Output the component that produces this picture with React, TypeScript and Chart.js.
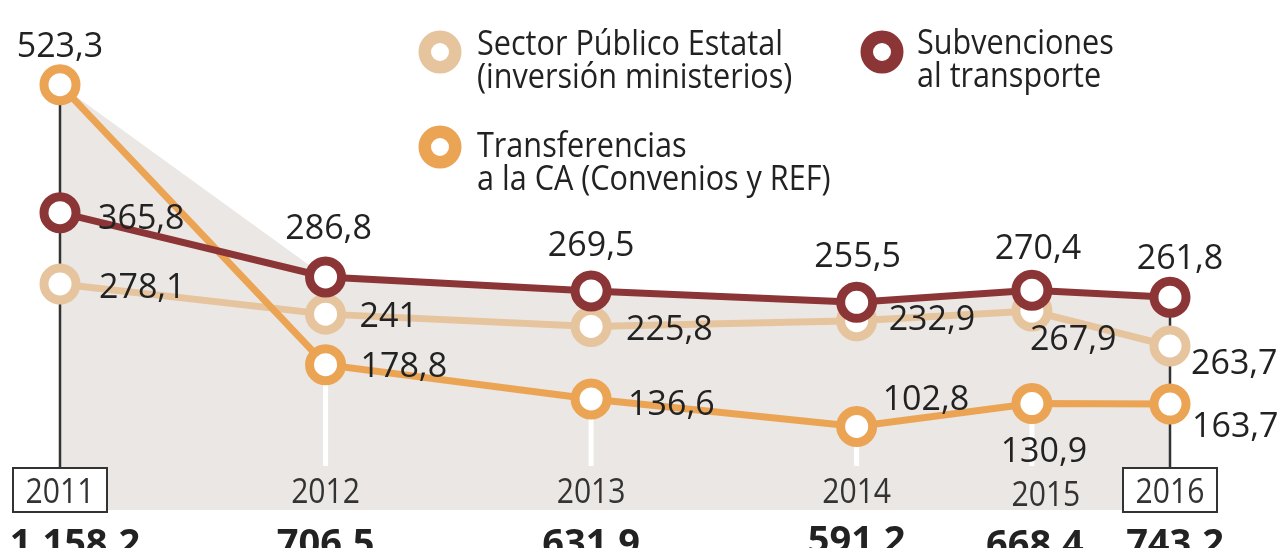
import React, { useEffect, useRef } from "react";
import { Chart, registerables } from "chart.js";

Chart.register(...registerables);

// ---------- data ----------
const years = ["2011", "2012", "2013", "2014", "2015", "2016"];
// where each year sits along the x axis (the original packs 2015 and 2016 closer together)
const columnSlots = [0, 1, 2, 3, 3.66, 4.18];

const sectorName = ["Sector Público Estatal", "(inversión ministerios)"];
const subvName = ["Subvenciones", "al transporte"];
const transName = ["Transferencias", "a la CA (Convenios y REF)"];

// heights as drawn in the original graphic (millions of euros)
const sectorValues = [278.1, 241, 225.8, 232.9, 244.8, 201.8];
const subvValues = [365.8, 286.8, 269.5, 255.5, 270.4, 261.8];
const transValues = [523.3, 178.8, 136.6, 102.8, 130.9, 130.4];

// printed figures
const sectorLabels = ["278,1", "241", "225,8", "232,9", "267,9", "263,7"];
const subvLabels = ["365,8", "286,8", "269,5", "255,5", "270,4", "261,8"];
const transLabels = ["523,3", "178,8", "136,6", "102,8", "130,9", "163,7"];
const totalLabels = ["1.158,2", "706,5", "631,9", "591,2", "668,4", "743,2"];

// ---------- styling / layout ----------
const C_SECTOR = "#e6c59e";
const C_SUBV = "#8c3536";
const C_TRANS = "#eba454";
const C_FILL = "#ebe7e4";
const C_TEXT = "#222222";
const FONT = '"Open Sans", "Noto Sans", sans-serif';

type Off = [number, number, CanvasTextAlign];
const transOffsets: Off[] = [[0, -40, "center"], [35, 0, "left"], [37, 4, "left"], [26, -28, "left"], [12, 46, "center"], [22, 21, "left"]];
const subvOffsets: Off[] = [[38, 4, "left"], [3, -50, "center"], [0, -47, "center"], [1, -47, "center"], [6, -43, "center"], [10, -40, "center"]];
const sectorOffsets: Off[] = [[39, 2, "left"], [34, 1, "left"], [35, 2, "left"], [32, -3, "left"], [-2, 27, "left"], [21, 16, "left"]];
const yearDx = [0, 0, 0, 0, 14, 0];
const yearBaseline = [503, 503, 503, 503, 506, 503];
const totalDx = [15, 0, 0, 0, 3, 5];
const totalBaseline = [556, 556, 556, 553, 557, 556];

function drawText(
  ctx: CanvasRenderingContext2D,
  s: string,
  x: number,
  y: number,
  align: CanvasTextAlign,
  size: number,
  weight: string,
  sx: number,
  color: string
) {
  ctx.save();
  ctx.font = `${weight} ${size}px ${FONT}`;
  ctx.fillStyle = color;
  ctx.textAlign = align;
  ctx.textBaseline = "alphabetic";
  ctx.translate(x, y);
  ctx.scale(sx, 1);
  ctx.fillText(s, 0, 0);
  ctx.restore();
}

function ring(ctx: CanvasRenderingContext2D, x: number, y: number, r: number, lw: number, color: string) {
  ctx.save();
  ctx.beginPath();
  ctx.arc(x, y, r, 0, Math.PI * 2);
  ctx.fillStyle = "#ffffff";
  ctx.fill();
  ctx.lineWidth = lw;
  ctx.strokeStyle = color;
  ctx.stroke();
  ctx.restore();
}

const infographic = {
  id: "infographic",
  beforeDatasetsDraw(chart: any) {
    const ctx = chart.ctx as CanvasRenderingContext2D;
    const xs = chart.scales.x;
    const ys = chart.scales.y;
    const last = columnSlots.length - 1;
    columnSlots.forEach((slot, i) => {
      const px = xs.getPixelForValue(slot);
      const pys = [sectorValues[i], subvValues[i], transValues[i]].map((v) => ys.getPixelForValue(v));
      const top = Math.min(...pys);
      const bottom = Math.max(...pys);
      ctx.save();
      ctx.beginPath();
      if (i === 0 || i === last) {
        ctx.strokeStyle = "#333333";
        ctx.lineWidth = 2.5;
        ctx.moveTo(px, top);
        ctx.lineTo(px, 468);
      } else {
        ctx.strokeStyle = "#ffffff";
        ctx.lineWidth = 5;
        ctx.moveTo(px, bottom);
        ctx.lineTo(px, 466);
      }
      ctx.stroke();
      ctx.restore();
    });
  },
  afterDatasetsDraw(chart: any) {
    const ctx = chart.ctx as CanvasRenderingContext2D;
    const xs = chart.scales.x;
    const ys = chart.scales.y;
    const groups: [number[], string[], Off[]][] = [
      [transValues, transLabels, transOffsets],
      [subvValues, subvLabels, subvOffsets],
      [sectorValues, sectorLabels, sectorOffsets],
    ];
    groups.forEach(([vals, labels, offs]) => {
      vals.forEach((v, i) => {
        const px = xs.getPixelForValue(columnSlots[i]);
        const py = ys.getPixelForValue(v);
        const [dx, dy, align] = offs[i];
        drawText(ctx, labels[i], px + dx, py + dy + 12, align, 34, "400", 1, C_TEXT);
      });
    });
  },
  afterDraw(chart: any) {
    const ctx = chart.ctx as CanvasRenderingContext2D;
    const xs = chart.scales.x;
    const last = columnSlots.length - 1;
    // year labels and boxes
    columnSlots.forEach((slot, i) => {
      const px = xs.getPixelForValue(slot);
      if (i === 0 || i === last) {
        ctx.save();
        ctx.fillStyle = "#ffffff";
        ctx.fillRect(px - 47, 468, 94, 44);
        ctx.strokeStyle = "#333333";
        ctx.lineWidth = 2;
        ctx.strokeRect(px - 47, 468, 94, 44);
        ctx.restore();
      }
      drawText(ctx, years[i], px + yearDx[i], yearBaseline[i], "center", 35, "400", 0.86, "#333333");
      drawText(ctx, totalLabels[i], px + totalDx[i], totalBaseline[i], "center", 38, "700", 1, C_TEXT);
    });
    // legend
    ring(ctx, 440, 52, 15.25, 12.5, C_SECTOR);
    ring(ctx, 440, 147, 15.25, 12.5, C_TRANS);
    ring(ctx, 882, 52, 15.25, 12.5, C_SUBV);
    drawText(ctx, sectorName[0], 477, 55, "left", 34, "400", 0.9, C_TEXT);
    drawText(ctx, sectorName[1], 477, 88, "left", 34, "400", 0.9, C_TEXT);
    drawText(ctx, transName[0], 477, 157, "left", 34, "400", 0.9, C_TEXT);
    drawText(ctx, transName[1], 477, 190, "left", 34, "400", 0.9, C_TEXT);
    drawText(ctx, subvName[0], 917, 54, "left", 34, "400", 0.9, C_TEXT);
    drawText(ctx, subvName[1], 917, 87, "left", 34, "400", 0.9, C_TEXT);
  },
};

function pts(vals: number[]) {
  return vals.map((v, i) => ({ x: columnSlots[i], y: v }));
}

export default function App() {
  const canvasRef = useRef<HTMLCanvasElement | null>(null);

  useEffect(() => {
    if (!canvasRef.current) return;
    const envelope = columnSlots.map((x, i) => ({
      x,
      y: Math.max(sectorValues[i], subvValues[i], transValues[i]),
    }));
    const lineDs = (label: string, vals: number[], color: string, order: number) => ({
      label,
      data: pts(vals),
      borderColor: color,
      backgroundColor: color,
      borderWidth: 7,
      pointRadius: 16,
      pointBorderWidth: 9,
      pointBackgroundColor: "#ffffff",
      pointBorderColor: color,
      tension: 0,
      fill: false,
      clip: false as any,
      order,
    });
    const chart = new Chart(canvasRef.current, {
      type: "line",
      data: {
        datasets: [
          {
            label: "total",
            data: envelope,
            borderColor: "rgba(0,0,0,0)",
            borderWidth: 0,
            pointRadius: 0,
            backgroundColor: C_FILL,
            fill: "origin",
            tension: 0,
            order: 10,
          } as any,
          lineDs(sectorName.join(" "), sectorValues, C_SECTOR, 3),
          lineDs(transName.join(" "), transValues, C_TRANS, 2),
          lineDs(subvName.join(" "), subvValues, C_SUBV, 1),
        ],
      },
      options: {
        responsive: false,
        devicePixelRatio: 1,
        animation: false,
        events: [],
        layout: { autoPadding: false, padding: { left: 60, right: 110, top: 0, bottom: 38 } } as any,
        scales: {
          x: { type: "linear", min: 0, max: columnSlots[columnSlots.length - 1], display: false },
          y: { type: "linear", min: 0, max: 627.5, display: false },
        },
        plugins: {
          legend: { display: false },
          tooltip: { enabled: false },
          filler: { drawTime: "beforeDatasetsDraw" } as any,
        },
      },
      plugins: [infographic as any],
    });
    return () => chart.destroy();
  }, []);

  return (
    <div style={{ position: "absolute", left: 0, top: 0, width: 1280, height: 548, background: "#ffffff" }}>
      <canvas ref={canvasRef} width={1280} height={548} style={{ display: "block" }} />
    </div>
  );
}
